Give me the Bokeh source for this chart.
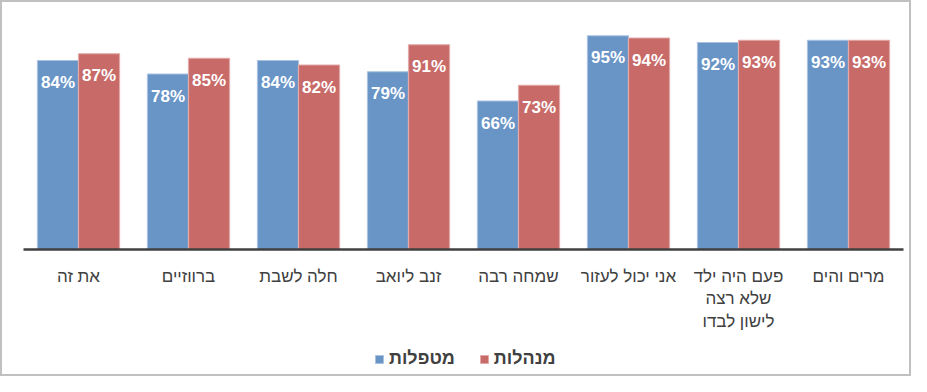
from bokeh.plotting import figure
from bokeh.layouts import column
from bokeh.models import FactorRange, Range1d, ColumnDataSource, Legend, LegendItem
from bokeh.transform import dodge
from bokeh.core.properties import value
from bokeh.embed import file_html
from bokeh.resources import INLINE

# data (original order, right-to-left in the picture)
categories = ["מרים והים", "פעם היה ילד\nשלא רצה\nלישון לבדו", "אני יכול לעזור", "שמחה רבה",
              "זנב ליואב", "חלה לשבת", "ברווזיים", "את זה"]
metaplot = [93, 92, 95, 66, 79, 84, 78, 84]     # מטפלות
menahalot = [93, 93, 94, 73, 91, 82, 85, 87]    # מנהלות
series_names = ["מטפלות", "מנהלות"]

BLUE = "#6894C6"
RED = "#C86A68"
BLUE_EDGE = "#A9C2E2"
RED_EDGE = "#E2AAA9"
TXT = "#404040"
FONT = "Liberation Sans"

src = ColumnDataSource(dict(
    cat=categories,
    a=metaplot,
    b=menahalot,
    a_lbl=[f"{v}%" for v in metaplot],
    b_lbl=[f"{v}%" for v in menahalot],
))

p = figure(width=907, height=332, output_backend="svg", toolbar_location=None,
           x_range=FactorRange(factors=list(reversed(categories)), range_padding=0),
           y_range=Range1d(0, 100),
           min_border_left=21, min_border_right=6, min_border_top=22, min_border_bottom=84)

bw = 0.373
p.vbar(x=dodge("cat", -bw / 2, range=p.x_range), top="a", width=bw, source=src,
       fill_color=BLUE, line_color=BLUE_EDGE, line_width=1.2)
p.vbar(x=dodge("cat", bw / 2, range=p.x_range), top="b", width=bw, source=src,
       fill_color=RED, line_color=RED_EDGE, line_width=1.2)

p.text(x=dodge("cat", -bw / 2, range=p.x_range), y="a", text="a_lbl", source=src,
       text_color="white", text_font=value(FONT), text_font_style="bold",
       text_font_size="17px", text_align="center", text_baseline="middle", y_offset=22)
p.text(x=dodge("cat", bw / 2, range=p.x_range), y="b", text="b_lbl", source=src,
       text_color="white", text_font=value(FONT), text_font_style="bold",
       text_font_size="17px", text_align="center", text_baseline="middle", y_offset=22)

p.yaxis.visible = False
p.xgrid.grid_line_color = None
p.ygrid.grid_line_color = None
p.outline_line_color = None

xa = p.xaxis[0]
xa.axis_line_color = TXT
xa.axis_line_width = 2.5
xa.major_tick_line_color = None
xa.minor_tick_line_color = None
xa.major_label_text_font = FONT
xa.major_label_text_font_size = "17px"
xa.major_label_text_color = TXT
xa.major_label_standoff = 11

# legend strip (proxy bars have no height; only their legend swatches show)
q = figure(width=907, height=40, output_backend="svg", toolbar_location=None,
           x_range=Range1d(0, 1), y_range=Range1d(0, 1),
           min_border_left=0, min_border_right=0, min_border_top=0, min_border_bottom=0)
q.axis.visible = False
q.grid.grid_line_color = None
q.outline_line_color = None
lb = q.vbar(x=[0.5], top=[float("nan")], width=0.1, fill_color=BLUE, line_color=BLUE_EDGE, line_width=1)
lr = q.vbar(x=[0.5], top=[float("nan")], width=0.1, fill_color=RED, line_color=RED_EDGE, line_width=1)

legend = Legend(items=[LegendItem(label=series_names[0], renderers=[lb]),
                       LegendItem(label=series_names[1], renderers=[lr])],
                orientation="horizontal", location=(351, 5),
                padding=0, margin=0, spacing=24, label_standoff=5,
                glyph_width=10, glyph_height=10,
                border_line_color=None, background_fill_alpha=0,
                label_text_font=FONT, label_text_font_style="bold",
                label_text_font_size="18px", label_text_color=TXT)
q.add_layout(legend, "center")

layout = column(p, q, spacing=0, styles={"border": "2px solid #C0C0C0"})

open("out.html", "w").write(file_html(layout, INLINE))
